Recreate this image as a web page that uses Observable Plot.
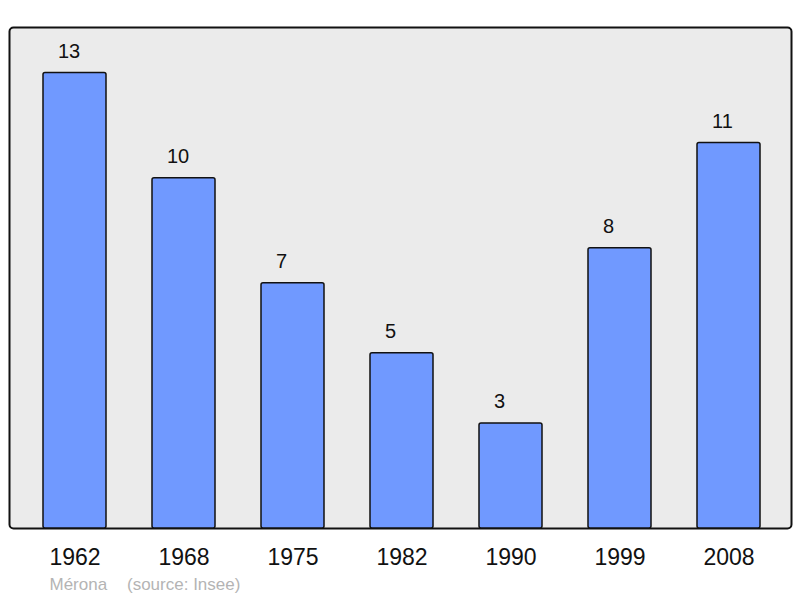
<!DOCTYPE html>
<html>
<head>
<meta charset="utf-8">
<script src="https://cdn.jsdelivr.net/npm/d3@7"></script>
<script src="https://cdn.jsdelivr.net/npm/@observablehq/plot@0.6"></script>
<style>
  html, body { margin: 0; padding: 0; background: #ffffff; }
  #chart svg { display: block; }
</style>
</head>
<body>
<div id="chart"></div>
<script>
const years = ["1962", "1968", "1975", "1982", "1990", "1999", "2008"];
const population = [13, 10, 7, 5, 3, 8, 11];
const placeName = "Mérona";
const sourceNote = "(source: Insee)";

const data = years.map((year, i) => ({year, value: population[i]}));
const yMax = d3.max(population) * 1.1;

const chart = Plot.plot({
  width: 800,
  height: 598,
  marginLeft: 9,
  marginRight: 9,
  marginTop: 27,
  marginBottom: 70,
  style: {fontFamily: "'Liberation Sans', Arial, sans-serif", background: "#ffffff", color: "#000"},
  x: {type: "band", domain: years, paddingInner: 0.42, paddingOuter: 0.285, align: 0.53},
  y: {domain: [0, yMax], axis: null},
  marks: [
    Plot.frame({fill: "#ebebeb", stroke: "#111", strokeWidth: 2, rx: 4}),
    Plot.barY(data, {x: "year", y: "value", fill: "#7099ff", stroke: "#111", strokeWidth: 1.5, rx: 2}),
    Plot.text(data, {x: "year", y: "value", text: d => String(d.value), dx: -17, dy: -21.5, textAnchor: "start", fontSize: 20, fill: "#111"}),
    Plot.axisX({tickSize: 0, tickPadding: 20, fontSize: 23, fill: "#111", label: null}),
    Plot.text([placeName], {frameAnchor: "bottom-left", dx: 40, dy: 56, textAnchor: "start", lineAnchor: "middle", fontSize: 17, fill: "#b4b4b4", text: d => d}),
    Plot.text([sourceNote], {frameAnchor: "bottom-left", dx: 117.5, dy: 56, textAnchor: "start", lineAnchor: "middle", fontSize: 17, fill: "#b4b4b4", text: d => d})
  ]
});
document.getElementById("chart").append(chart);
</script>
</body>
</html>
